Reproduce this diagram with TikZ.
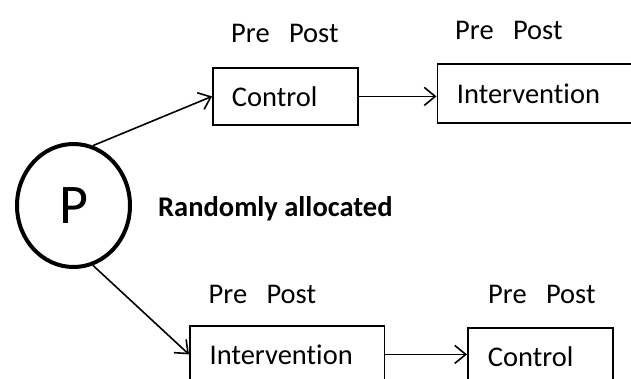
\documentclass[tikz,border=0pt]{standalone}
\usepackage{fontspec}
\setmainfont[Ligatures=NoCommon]{Carlito}
\usepackage{tikz}
\usetikzlibrary{arrows.meta,positioning,shapes.geometric}
\tikzset{
  armbox/.style={draw,line width=1.8pt,anchor=north west,minimum height=57pt,inner xsep=19pt,align=left,font=\fontsize{28.5}{34}\selectfont},
  phaselabel/.style={anchor=west,inner sep=0pt,font=\fontsize{28.5}{34}\selectfont},
  armarrow/.style={-{Straight Barb[length=11pt,width=18pt]},line width=1.6pt},
}

\begin{document}
\begin{tikzpicture}[x=1pt,y=-1pt]
  \useasboundingbox (0,0) rectangle (631,378);
  \clip (0,0) rectangle (631,378);
  % population
  \node[ellipse,draw,line width=4pt,minimum width=113pt,minimum height=123pt,font=\fontsize{56}{60}\selectfont,inner sep=0pt] (pop) at (73.5,205.5) {P};
  \node[phaselabel,font=\fontsize{28.5}{34}\selectfont\bfseries] (rand) at (158,209) {Randomly allocated};
  % first arm
  \node[armbox,minimum width=145pt,text width=107pt] (ctrlA) at (212,67) {Control};
  \node[armbox,minimum width=200pt,minimum height=59pt,text width=161pt,inner xsep=19.5pt] (intA) at (436.5,63) {Intervention\\[-6pt]};
  \node[phaselabel] (ppA1) at (231,33) {Pre~~~Post};
  \node[phaselabel] (ppA2) at (455,30) {Pre~~~Post};
  % second arm
  \node[armbox,minimum width=194.5pt,text width=155pt,inner xsep=19.5pt] (intB) at (189,325) {Intervention};
  \node[armbox,minimum width=145pt,text width=105pt,inner xsep=20pt] (ctrlB) at (467,327) {Control};
  \node[phaselabel] (ppB1) at (208.5,294) {Pre~~~Post};
  \node[phaselabel] (ppB2) at (488,294) {Pre~~~Post};
  \draw[armarrow] (pop.72) -- (ctrlA.west);
  \draw[armarrow] (ctrlA.east) -- (ctrlA.east -| intA.west);
  \draw[armarrow] (pop.-72) -- (intB.west);
  \draw[armarrow] (intB.east) -- (intB.east -| ctrlB.west);
\end{tikzpicture}
\end{document}
